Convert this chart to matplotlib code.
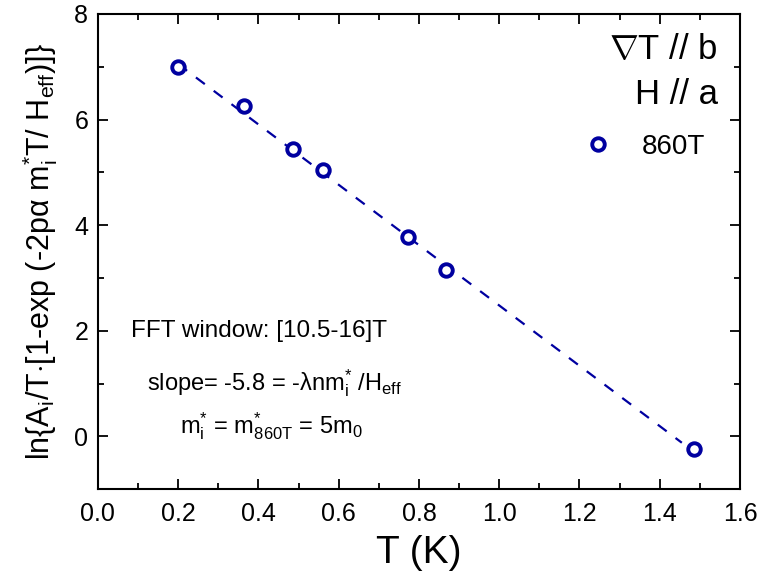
import numpy as np
import matplotlib
matplotlib.use("Agg")
import matplotlib.pyplot as plt

plt.rcParams['font.family'] = ['Liberation Sans', 'DejaVu Sans']
plt.rcParams['mathtext.fontset'] = 'custom'
plt.rcParams['mathtext.rm'] = 'Liberation Sans'
plt.rcParams['mathtext.it'] = 'Liberation Sans'
plt.rcParams['mathtext.bf'] = 'Liberation Sans:bold'

# data
temp_K = [0.20, 0.365, 0.485, 0.562, 0.772, 0.867, 1.485]
ln_amp = [7.00, 6.25, 5.45, 5.05, 3.78, 3.16, -0.24]

# dashed linear fit endpoints
fit_T = [0.20, 1.455]
fit_y = [7.05, -0.12]

blue = '#0000A0'

fig = plt.figure(figsize=(7.59, 5.81), dpi=100)
ax = fig.add_axes([0.129, 0.158, 0.846, 0.818])

ax.plot(fit_T, fit_y, linestyle=(0, (5, 5)), color=blue, linewidth=1.6)
ax.plot(temp_K, ln_amp, linestyle='none', marker='o', markersize=9,
        markerfacecolor='white', markeredgecolor=blue, markeredgewidth=2.8,
        label='860T')

ax.set_xlim(0, 1.6)
ax.set_ylim(-1, 8)
ax.set_xticks(np.arange(0, 1.61, 0.2))
ax.set_xticks(np.arange(0.1, 1.6, 0.2), minor=True)
ax.set_yticks([0, 2, 4, 6, 8])
ax.set_yticks([-1, 1, 3, 5, 7], minor=True)
ax.xaxis.set_major_formatter(matplotlib.ticker.FormatStrFormatter('%.1f'))
ax.tick_params(which='both', direction='in', top=True, right=True, width=1.3,
               labelsize=18)
ax.tick_params(axis='x', pad=9)
ax.tick_params(axis='y', pad=7)
ax.tick_params(which='major', length=7)
ax.tick_params(which='minor', length=4)
for s in ax.spines.values():
    s.set_linewidth(1.5)

ax.set_xlabel('T (K)', fontsize=28, labelpad=7)
ax.set_ylabel(r'ln{A$_{i}$/T$\cdot$[1-exp (-2p$\alpha$ m$_{i}^{*}$T/ H$_{eff}$)]}',
              fontsize=22, labelpad=10)

ax.text(0.965, 0.925, r'$\nabla$T // b', transform=ax.transAxes, fontsize=25,
        ha='right', va='center')
ax.text(0.965, 0.83, 'H // a', transform=ax.transAxes, fontsize=25,
        ha='right', va='center')

leg = ax.legend(loc='center right', bbox_to_anchor=(0.985, 0.72), frameon=False,
                fontsize=20, handletextpad=0.9, handlelength=1.4)

ax.text(0.052, 2.0, 'FFT window: [10.5-16]T', transform=ax.get_yaxis_transform(),
        fontsize=17.5, va='center')
ax.text(0.076, 1.0, r'slope= -5.8 = -$\lambda$nm$_{i}^{*}$ /H$_{eff}$',
        transform=ax.get_yaxis_transform(), fontsize=17, va='center')
ax.text(0.128, 0.2, r'm$_{i}^{*}$ = m$^{*}_{860T}$ = 5m$_{0}$',
        transform=ax.get_yaxis_transform(), fontsize=17, va='center')

fig.savefig('out.png', dpi=100)
